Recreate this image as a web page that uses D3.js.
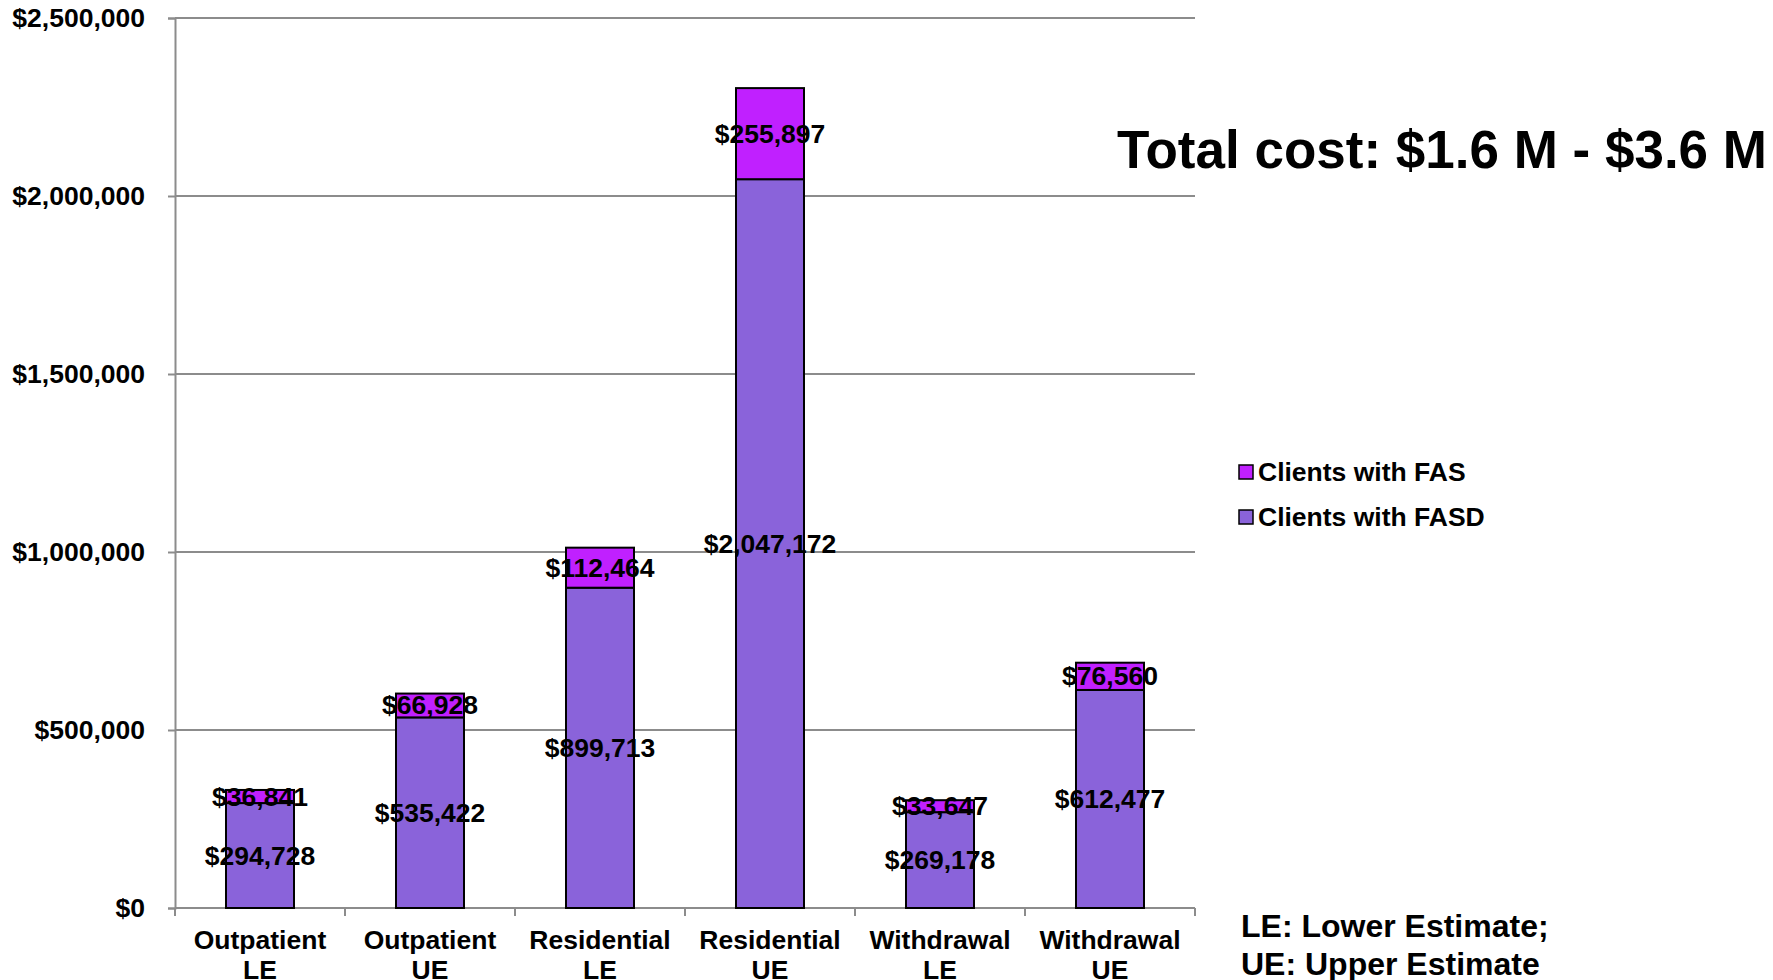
<!DOCTYPE html>
<html>
<head>
<meta charset="utf-8">
<script src="https://cdn.jsdelivr.net/npm/d3@7"></script>
<style>
  html, body { margin: 0; padding: 0; background: #fff; }
  svg { display: block; }
  text { font-family: Arial, "Liberation Sans", Helvetica, sans-serif; font-weight: bold; fill: #000; }
</style>
</head>
<body>
<svg id="chart" width="1773" height="980"></svg>
<script>
const categories = [["Outpatient","LE"],["Outpatient","UE"],["Residential","LE"],["Residential","UE"],["Withdrawal","LE"],["Withdrawal","UE"]];
const fasdValues = [294728, 535422, 899713, 2047172, 269178, 612477];
const fasValues  = [36841, 66928, 112464, 255897, 33647, 76560];
const seriesNames = ["Clients with FAS", "Clients with FASD"];
const yTicks = [0, 500000, 1000000, 1500000, 2000000, 2500000];
const titleText = "Total cost: $1.6 M - $3.6 M";
const noteLines = ["LE: Lower Estimate;", "UE: Upper Estimate"];

(function () {
const colFASD = "#8a63da";
const colFAS = "#c020ff";
const fs = "26.5px";

const svg = d3.select("#chart");
const pLeft = 175, pRight = 1195, pTop = 18, pBottom = 908;

const x = d3.scaleBand().domain(d3.range(categories.length)).range([pLeft, pRight]).paddingInner(0.6).paddingOuter(0.3);
const xb = d3.scaleBand().domain(d3.range(categories.length)).range([pLeft, pRight]);
const y = d3.scaleLinear().domain([0, 2500000]).range([pBottom, pTop]);
const fmt = v => "$" + d3.format(",")(v);

// gridlines
svg.append("g").selectAll("line").data(yTicks.slice(1)).join("line")
  .attr("x1", pLeft).attr("x2", pRight)
  .attr("y1", d => y(d)).attr("y2", d => y(d))
  .attr("stroke", "#8c8c8c").attr("stroke-width", 2);

// y axis
const yAxis = svg.append("g").attr("transform", `translate(${pLeft},0)`)
  .call(d3.axisLeft(y).tickValues(yTicks).tickFormat(fmt).tickSize(7).tickPadding(23));
yAxis.select(".domain").attr("stroke", "#8c8c8c").attr("stroke-width", 2);
yAxis.selectAll(".tick line").attr("stroke", "#8c8c8c").attr("stroke-width", 2);
yAxis.selectAll("text").style("font-size", fs).style("font-family", "Arial, 'Liberation Sans', sans-serif").style("font-weight", "bold").attr("fill", "#000");

// x axis baseline + ticks
svg.append("line").attr("x1", pLeft).attr("x2", pRight).attr("y1", pBottom).attr("y2", pBottom)
  .attr("stroke", "#8c8c8c").attr("stroke-width", 2);
svg.append("g").selectAll("line").data(d3.range(categories.length + 1)).join("line")
  .attr("x1", i => pLeft + i * xb.bandwidth()).attr("x2", i => pLeft + i * xb.bandwidth())
  .attr("y1", pBottom).attr("y2", pBottom + 8)
  .attr("stroke", "#8c8c8c").attr("stroke-width", 2);

// bars
const g = svg.append("g");
categories.forEach((c, i) => {
  const bx = x(i), bw = x.bandwidth();
  const a = fasdValues[i], b = fasValues[i];
  g.append("rect").attr("x", bx).attr("y", y(a)).attr("width", bw).attr("height", y(0) - y(a))
    .attr("fill", colFASD).attr("stroke", "#000").attr("stroke-width", 2);
  g.append("rect").attr("x", bx).attr("y", y(a + b)).attr("width", bw).attr("height", y(a) - y(a + b))
    .attr("fill", colFAS).attr("stroke", "#000").attr("stroke-width", 2);
});
categories.forEach((c, i) => {
  const cx = x(i) + x.bandwidth() / 2;
  const a = fasdValues[i], b = fasValues[i];
  g.append("text").attr("x", cx).attr("y", y(a / 2)).attr("text-anchor", "middle")
    .attr("dominant-baseline", "central").style("font-size", fs).text(fmt(a));
  g.append("text").attr("x", cx).attr("y", y(a + b / 2)).attr("text-anchor", "middle")
    .attr("dominant-baseline", "central").style("font-size", fs).text(fmt(b));
  const t = svg.append("text").attr("x", xb(i) + xb.bandwidth() / 2).attr("y", 949)
    .attr("text-anchor", "middle").style("font-size", fs);
  t.append("tspan").attr("x", xb(i) + xb.bandwidth() / 2).attr("dy", 0).text(c[0]);
  t.append("tspan").attr("x", xb(i) + xb.bandwidth() / 2).attr("dy", 30).text(c[1]);
});

// title
svg.append("text").attr("x", 1117).attr("y", 168).style("font-size", "54px")
  .attr("textLength", 650).attr("lengthAdjust", "spacingAndGlyphs").text(titleText);

// legend
const legendColors = [colFAS, colFASD];
seriesNames.forEach((n, i) => {
  const ly = 472 + i * 45;
  svg.append("rect").attr("x", 1239).attr("y", ly - 7).attr("width", 14).attr("height", 14)
    .attr("fill", legendColors[i]).attr("stroke", "#000").attr("stroke-width", 1.5);
  svg.append("text").attr("x", 1258).attr("y", ly).attr("dominant-baseline", "central")
    .style("font-size", fs).text(n);
});

// note
noteLines.forEach((s, i) => {
  svg.append("text").attr("x", 1241).attr("y", 937 + i * 38).style("font-size", "32px").text(s);
});
})();
</script>
</body>
</html>
